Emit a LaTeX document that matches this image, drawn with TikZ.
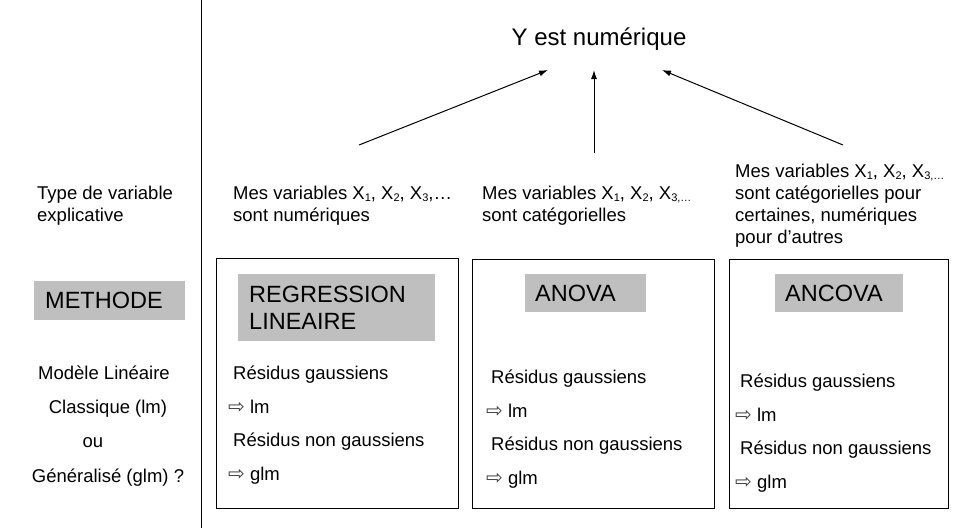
\documentclass[tikz,border=0pt]{standalone}
\usepackage{fontspec}
\setmainfont{Liberation Sans}
\newfontfamily\symb{DejaVu Sans}
\usetikzlibrary{arrows.meta}
\usetikzlibrary{positioning}

\newcommand{\ind}[1]{\raisebox{-0.3ex}{\fontsize{11}{11}\selectfont #1}}
\newcommand{\fl}{{\symb\fontsize{20}{20}\selectfont\color{black!75}⇨}}

\begin{document}
\begin{tikzpicture}
	[x=1pt,y=-1pt,
	 boite/.style={draw, line width=1pt, inner sep=0pt, anchor=north west},
	 titre/.style={fill=black!25, font=\fontsize{23.5}{27}\selectfont, inner ysep=0pt, inner xsep=10pt, align=left, anchor=north west},
	 texte/.style={font=\fontsize{18.5}{22}\selectfont, inner sep=0pt, anchor=base west, align=left},
	 fleche/.style={-{Latex[length=9pt,width=6pt]}, line width=1pt}]
	\useasboundingbox (0,0) rectangle (960,528);

	%separation
	\draw[line width=1pt] (201,0) -- (201,528);

	%title
	\node (Y) [font=\fontsize{24}{28}\selectfont, anchor=base] at (599,45) {Y est numérique};
	\coordinate (queueA) at (359,145);
	\coordinate (queueB) at (594,153);
	\coordinate (queueC) at (843,145);
	\coordinate (teteA) at (548,70);
	\coordinate (teteB) at (594,70);
	\coordinate (teteC) at (662,70);
	\draw[fleche] (queueA) -- (teteA);
	\draw[fleche] (queueB) -- (teteB);
	\draw[fleche] (queueC) -- (teteC);

	%left column (base = last line)
	\node (type) [texte] at (37,221) {Type de variable\\explicative};
	\node (methode) [titre, text width=129pt, minimum height=39pt, inner xsep=11pt] at (34,281) {METHODE};
	\node (modA) [texte, anchor=base] at (104,379) {Modèle Linéaire};
	\node (modB) [texte, anchor=base] at (108,413) {Classique (lm)};
	\node (modC) [texte, anchor=base] at (93,447) {ou};
	\node (modD) [texte, anchor=base] at (108,482) {Généralisé (glm) ?};

	%boxes
	\node (boiteA) [boite, minimum width=242pt, minimum height=250pt] at (216,258) {};
	\node (boiteB) [boite, minimum width=242pt, minimum height=249pt] at (472,259) {};
	\node (boiteC) [boite, minimum width=219pt, minimum height=249pt] at (729,259) {};

	%variables
	\node (varA) [texte] at (233,221) {Mes variables X\ind{1}, X\ind{2}, X\ind{3},…\\sont numériques};
	\node (varB) [texte] at (482,221) {Mes variables X\ind{1}, X\ind{2}, X\ind{3,…}\\sont catégorielles};
	\node (varC) [texte] at (735,243) {Mes variables X\ind{1}, X\ind{2}, X\ind{3,…}\\sont catégorielles pour\\certaines, numériques\\pour d’autres};

	%methods
	\node (regression) [titre, text width=175pt, minimum height=67pt, inner xsep=11pt] at (238,274) {REGRESSION\\LINEAIRE};
	\node (anova) [titre, text width=101pt, minimum height=38pt] at (525,274) {ANOVA};
	\node (ancova) [titre, text width=108pt, minimum height=38pt] at (775,274) {ANCOVA};

	%residus
	\foreach \b/\x/\y in {A/233/379,B/491/383,C/740/387}{
		\node (resG\b) [texte] at (\x,\y) {Résidus gaussiens};
		\node (lm\b) [texte] at (\x-5,\y+34) {\fl\ lm};
		\node (resN\b) [texte] at (\x,\y+67) {Résidus non gaussiens};
		\node (glm\b) [texte] at (\x-5,\y+101) {\fl\ glm};
	}
\end{tikzpicture}
\end{document}
